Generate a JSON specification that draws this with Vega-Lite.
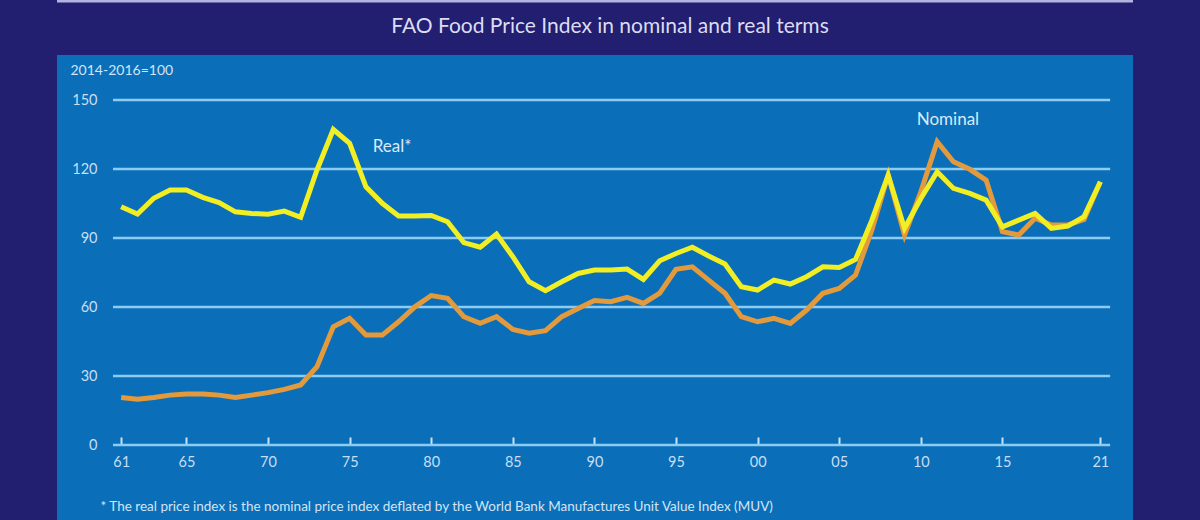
{
  "$schema": "https://vega.github.io/schema/vega-lite/v6.json",
  "width": 1076,
  "height": 465,
  "autosize": {"type": "none"},
  "padding": {"left": 57, "top": 55, "right": 67, "bottom": 0},
  "background": "#221e70",
  "title": {
    "text": "FAO Food Price Index in nominal and real terms",
    "font": "Lato",
    "fontSize": 21,
    "fontWeight": "normal",
    "color": "#dcdcf2",
    "anchor": "middle",
    "dx": 15,
    "offset": -37.5
  },
  "config": {
    "view": {"fill": "#0a6fb8", "stroke": null},
    "axis": {"labelFont": "Lato", "titleFont": "Lato"}
  },
  "data": {
    "values": [
      {"year": 1961, "real": 103.6, "nominal": 20.7},
      {"year": 1962, "real": 100.4, "nominal": 19.9},
      {"year": 1963, "real": 107.3, "nominal": 20.7},
      {"year": 1964, "real": 110.9, "nominal": 21.7},
      {"year": 1965, "real": 110.9, "nominal": 22.2},
      {"year": 1966, "real": 107.7, "nominal": 22.2},
      {"year": 1967, "real": 105.4, "nominal": 21.7},
      {"year": 1968, "real": 101.4, "nominal": 20.7},
      {"year": 1969, "real": 100.7, "nominal": 21.7},
      {"year": 1970, "real": 100.4, "nominal": 22.8},
      {"year": 1971, "real": 101.7, "nominal": 24.2},
      {"year": 1972, "real": 99.0, "nominal": 26.1},
      {"year": 1973, "real": 119.6, "nominal": 34.1},
      {"year": 1974, "real": 137.2, "nominal": 51.4},
      {"year": 1975, "real": 131.2, "nominal": 55.1},
      {"year": 1976, "real": 112.3, "nominal": 47.8},
      {"year": 1977, "real": 105.1, "nominal": 47.8},
      {"year": 1978, "real": 99.6, "nominal": 53.6},
      {"year": 1979, "real": 99.6, "nominal": 60.1},
      {"year": 1980, "real": 99.8, "nominal": 65.0},
      {"year": 1981, "real": 97.1, "nominal": 63.8},
      {"year": 1982, "real": 88.0, "nominal": 55.8},
      {"year": 1983, "real": 86.0, "nominal": 52.9},
      {"year": 1984, "real": 91.7, "nominal": 55.8},
      {"year": 1985, "real": 81.9, "nominal": 50.3},
      {"year": 1986, "real": 71.0, "nominal": 48.6},
      {"year": 1987, "real": 67.1, "nominal": 49.7},
      {"year": 1988, "real": 71.0, "nominal": 55.8},
      {"year": 1989, "real": 74.6, "nominal": 59.4},
      {"year": 1990, "real": 76.1, "nominal": 62.8},
      {"year": 1991, "real": 76.1, "nominal": 62.3},
      {"year": 1992, "real": 76.5, "nominal": 64.2},
      {"year": 1993, "real": 72.0, "nominal": 61.6},
      {"year": 1994, "real": 80.1, "nominal": 66.0},
      {"year": 1995, "real": 83.3, "nominal": 76.4},
      {"year": 1996, "real": 86.0, "nominal": 77.5},
      {"year": 1997, "real": 82.2, "nominal": 71.7},
      {"year": 1998, "real": 78.7, "nominal": 66.0},
      {"year": 1999, "real": 68.8, "nominal": 55.8},
      {"year": 2000, "real": 67.4, "nominal": 53.6},
      {"year": 2001, "real": 71.7, "nominal": 55.1},
      {"year": 2002, "real": 70.0, "nominal": 52.9},
      {"year": 2003, "real": 73.2, "nominal": 58.7},
      {"year": 2004, "real": 77.5, "nominal": 66.0},
      {"year": 2005, "real": 77.2, "nominal": 68.1},
      {"year": 2006, "real": 80.7, "nominal": 73.9},
      {"year": 2007, "real": 97.8, "nominal": 93.5},
      {"year": 2008, "real": 117.4, "nominal": 117.4},
      {"year": 2009, "real": 94.2, "nominal": 91.3},
      {"year": 2010, "real": 107.2, "nominal": 110.1},
      {"year": 2011, "real": 118.8, "nominal": 131.9},
      {"year": 2012, "real": 111.6, "nominal": 123.2},
      {"year": 2013, "real": 109.4, "nominal": 119.9},
      {"year": 2014, "real": 106.5, "nominal": 115.2},
      {"year": 2015, "real": 94.9, "nominal": 92.8},
      {"year": 2016, "real": 97.8, "nominal": 91.3},
      {"year": 2017, "real": 100.7, "nominal": 98.6},
      {"year": 2018, "real": 94.2, "nominal": 95.7},
      {"year": 2019, "real": 95.2, "nominal": 95.7},
      {"year": 2020, "real": 99.3, "nominal": 98.1},
      {"year": 2021, "real": 114.5, "nominal": 114.5}
    ]
  },
  "layer": [
    {
      "data": {"values": [{"g": 0}, {"g": 30}, {"g": 60}, {"g": 90}, {"g": 120}, {"g": 150}]},
      "mark": {"type": "rule", "color": "#8ccbf2", "strokeWidth": 2.5},
      "encoding": {
        "x": {
          "datum": 1960.5, "type": "quantitative",
          "scale": {"domain": [1957.07, 2023.0], "nice": false, "zero": false},
          "axis": {
            "orient": "bottom", "offset": -75,
            "values": [1961, 1965, 1970, 1975, 1980, 1985, 1990, 1995, 2000, 2005, 2010, 2015, 2021],
            "format": "d",
            "labelExpr": "substring(datum.label, 2)",
            "domain": false, "grid": false,
            "ticks": true, "tickSize": -8, "tickWidth": 2, "tickColor": "#cde3f5",
            "labelPadding": 18, "labelFontSize": 14.5, "labelColor": "#c8def3",
            "title": "* The real price index is the nominal price index deflated by the World Bank Manufactures Unit Value Index (MUV)",
            "titleAnchor": "start", "titleAlign": "left", "titleBaseline": "middle",
            "titleX": 43, "titleY": 61,
            "titleFontSize": 13.5, "titleFontWeight": "normal", "titleColor": "#d2e4f5"
          }
        },
        "x2": {"datum": 2021.6},
        "y": {
          "field": "g", "type": "quantitative",
          "scale": {"domain": [-32.6, 169.6], "nice": false, "zero": false},
          "axis": {
            "orient": "left", "offset": -56,
            "values": [0, 30, 60, 90, 120, 150],
            "domain": false, "ticks": false, "grid": false,
            "labelPadding": 16, "labelFontSize": 14.5, "labelColor": "#c8def3",
            "title": "2014-2016=100",
            "titleAngle": 0, "titleAlign": "left", "titleBaseline": "middle",
            "titleX": -43, "titleY": 15,
            "titleFontSize": 14, "titleFontWeight": "normal", "titleColor": "#d2e4f5"
          }
        }
      }
    },
    {
      "data": {"values": [{"edge": "top"}]},
      "mark": {"type": "rule", "color": "#b3b3df", "strokeWidth": 3, "clip": false},
      "encoding": {
        "x": {"datum": 1957.07, "type": "quantitative"},
        "x2": {"datum": 2023.0},
        "y": {"datum": 193.1, "type": "quantitative"}
      }
    },
    {
      "mark": {"type": "line", "color": "#e39a3c", "strokeWidth": 5},
      "encoding": {
        "x": {"field": "year", "type": "quantitative", "scale": {"domain": [1957.07, 2023.0], "nice": false, "zero": false}},
        "y": {"field": "nominal", "type": "quantitative", "scale": {"domain": [-32.6, 169.6], "nice": false, "zero": false}}
      }
    },
    {
      "mark": {"type": "line", "color": "#f1ee23", "strokeWidth": 5},
      "encoding": {
        "x": {"field": "year", "type": "quantitative", "scale": {"domain": [1957.07, 2023.0], "nice": false, "zero": false}},
        "y": {"field": "real", "type": "quantitative", "scale": {"domain": [-32.6, 169.6], "nice": false, "zero": false}}
      }
    },
    {
      "data": {"values": [{"label": "Real*"}]},
      "mark": {"type": "text", "font": "Lato", "fontSize": 17, "color": "#dbe9f7", "align": "center", "baseline": "middle"},
      "encoding": {
        "x": {"datum": 1977.6, "type": "quantitative"},
        "y": {"datum": 129.6, "type": "quantitative"},
        "text": {"field": "label"}
      }
    },
    {
      "data": {"values": [{"label": "Nominal"}]},
      "mark": {"type": "text", "font": "Lato", "fontSize": 17, "color": "#dbe9f7", "align": "center", "baseline": "middle"},
      "encoding": {
        "x": {"datum": 2011.66, "type": "quantitative"},
        "y": {"datum": 141.3, "type": "quantitative"},
        "text": {"field": "label"}
      }
    }
  ]
}
